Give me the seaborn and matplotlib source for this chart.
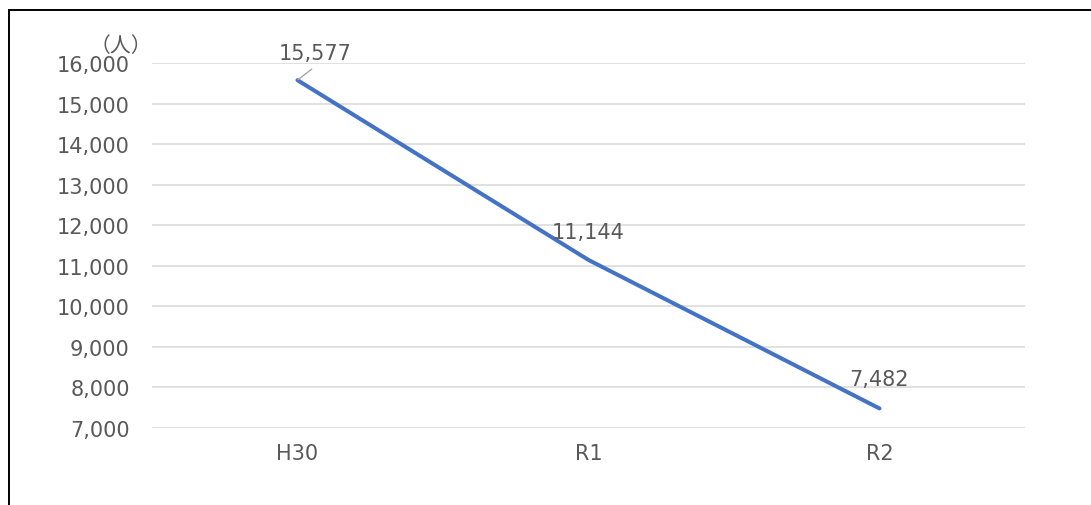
import matplotlib
matplotlib.use("Agg")
import matplotlib.pyplot as plt
import seaborn as sns
import pandas as pd
from matplotlib.patches import Rectangle

# Yearly counts (persons)
years = ["H30", "R1", "R2"]
counts = [15577, 11144, 7482]
y_ticks = [7000, 8000, 9000, 10000, 11000, 12000, 13000, 14000, 15000, 16000]
unit_label = "（人）"

sns.set_theme(style="white")
plt.rcParams["font.family"] = ["DejaVu Sans", "Noto Sans CJK JP"]

text_color = "#595959"
line_color = "#4472C4"
grid_color = "#D9D9D9"
fsize = 15

df = pd.DataFrame({"year": years, "count": counts})

fig = plt.figure(figsize=(10.91, 5.06), dpi=100)
ax = fig.add_axes([0.1393, 0.1522, 0.8002, 0.7213])

sns.lineplot(data=df, x="year", y="count", ax=ax, color=line_color,
             linewidth=2.9, sort=False, solid_capstyle="round")

ax.set_xlim(-0.5, len(years) - 0.5)
ax.set_ylim(y_ticks[0], y_ticks[-1])
ax.set_yticks(y_ticks)
ax.set_yticklabels([f"{v:,}" for v in y_ticks])
ax.yaxis.grid(True, color=grid_color, linewidth=1.1)
ax.set_axisbelow(True)
for s in ax.spines.values():
    s.set_visible(False)
ax.set_xlabel("")
ax.set_ylabel("")
ax.tick_params(axis="both", length=0, labelsize=fsize, colors=text_color)
ax.tick_params(axis="y", pad=16)
ax.tick_params(axis="x", pad=11)

# Value labels above each point; the first one carries a short leader line
offsets = [(13, 15), (0, 16), (0, 17)]
for i, (yr, v) in enumerate(zip(years, counts)):
    ax.annotate(f"{v:,}", xy=(i, v), xytext=offsets[i], textcoords="offset points",
                ha="center", va="baseline", fontsize=fsize, color=text_color,
                arrowprops=dict(arrowstyle="-", color="#A6A6A6", lw=1.0,
                                shrinkA=3.0, shrinkB=0.5,
                                relpos=(0.55, 0.0)) if i == 0 else None)

ax.text(0.0, 1.02, unit_label, transform=ax.transAxes, ha="right", va="bottom",
        fontsize=fsize, color=text_color, family=["Noto Sans CJK JP"])

# Outer frame of the figure
fig.patches.append(Rectangle((9 / 1091, -0.05), 1.2, 1 - 11 / 506 + 0.05,
                             transform=fig.transFigure, fill=False,
                             edgecolor="black", linewidth=1.4))

fig.savefig("out.png", dpi=100)
